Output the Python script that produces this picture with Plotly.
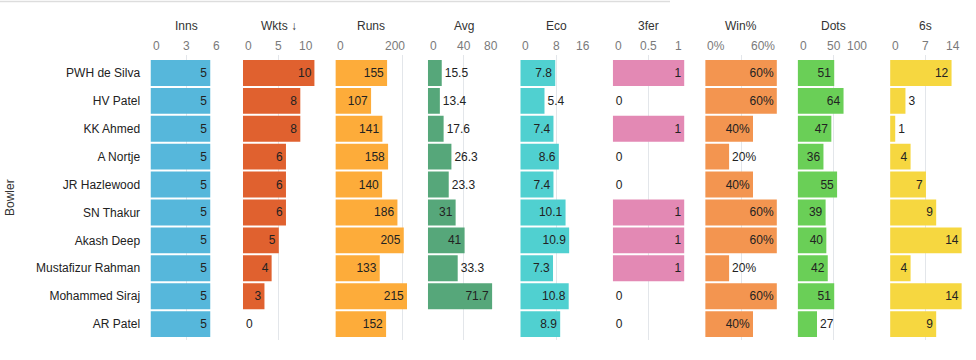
import plotly.graph_objects as go

bowlers = ["PWH de Silva", "HV Patel", "KK Ahmed", "A Nortje", "JR Hazlewood",
           "SN Thakur", "Akash Deep", "Mustafizur Rahman", "Mohammed Siraj", "AR Patel"]

inns = [5, 5, 5, 5, 5, 5, 5, 5, 5, 5]
wkts = [10, 8, 8, 6, 6, 6, 5, 4, 3, 0]
runs = [155, 107, 141, 158, 140, 186, 205, 133, 215, 152]
avg = [15.5, 13.4, 17.6, 26.3, 23.3, 31, 41, 33.3, 71.7, None]
eco = [7.8, 5.4, 7.4, 8.6, 7.4, 10.1, 10.9, 7.3, 10.8, 8.9]
three_fer = [1, 0, 1, 0, 0, 1, 1, 1, 0, 0]
win_pct = [60, 60, 40, 20, 40, 60, 60, 20, 60, 40]
dots = [51, 64, 47, 36, 55, 39, 40, 42, 51, 27]
sixes = [12, 3, 1, 4, 7, 9, 14, 4, 14, 9]

titles = ["Inns", "Wkts ↓", "Runs", "Avg", "Eco", "3fer", "Win%", "Dots", "6s"]
series = [inns, wkts, runs, avg, eco, three_fer, win_pct, dots, sixes]
ranges = [6, 10, 215, 80, 16, 1, 60, 100, 14]
grid_vals = [[0, 3, 6], [0, 5, 10], [0, 200], [0, 40, 80], [0, 8, 16],
             [0, 0.5, 1], [0, 30, 60], [0, 50, 100], [0, 7, 14]]
tick_vals = [[0, 3, 6], [0, 5, 10], [0, 200], [0, 40, 80], [0, 8, 16],
             [0, 0.5, 1], [0, 60], [0, 50, 100], [0, 7, 14]]
tick_text = [["0", "3", "6"], ["0", "5", "10"], ["0", "200"], ["0", "40", "80"],
             ["0", "8", "16"], ["0", "0.5", "1"], ["0%", "60%"], ["0", "50", "100"],
             ["0", "7", "14"]]
suffix = ["", "", "", "", "", "", "%", "", ""]
colors = ["#56B7DB", "#E0612F", "#FDAC3A", "#56A77A", "#50D0D0",
          "#E389B4", "#F39550", "#6ACF57", "#F6D740"]

W, H = 976, 360
start0, step, width = 150.5, 92.45, 71.7
FONT = "Liberation Sans, Arial, sans-serif"

fig = go.Figure()
annotations = []

for i, (title, vals) in enumerate(zip(titles, series)):
    ax = "" if i == 0 else str(i + 1)
    texts, positions = [], []
    for v in vals:
        if v is None:
            texts.append("")
            positions.append("none")
            continue
        t = f"{v:g}{suffix[i]}"
        texts.append(t)
        bar_px = v / ranges[i] * width
        txt_px = sum(3.3 if c == "." else (10.7 if c == "%" else 6.7) for c in t)
        positions.append("inside" if bar_px >= txt_px + 10 else "outside")
    fig.add_trace(go.Bar(
        x=vals, y=bowlers, orientation="h",
        xaxis="x" + ax, yaxis="y",
        marker=dict(color=colors[i], line=dict(width=0)),
        text=texts, textposition=positions, insidetextanchor="end",
        textfont=dict(color="#222", size=12, family=FONT),
        cliponaxis=False, hoverinfo="x+y", showlegend=False,
    ))
    x0 = start0 + i * step
    fig.layout["xaxis" + ax] = dict(
        domain=[x0 / W, (x0 + width) / W], anchor="y", range=[0, ranges[i]],
        tickvals=grid_vals[i], showticklabels=False, showgrid=True,
        gridcolor="#E3E6EA", gridwidth=1, zeroline=False, showline=False,
        fixedrange=True,
    )
    xref = "x" + ax
    annotations.append(dict(
        x=ranges[i] / 2, y=1 - 26 / H, xref=xref, yref="paper", text=title,
        showarrow=False, xanchor="center", yanchor="middle",
        font=dict(size=12, color="#333", family=FONT),
    ))
    n = len(tick_vals[i])
    for j, (tv, tt) in enumerate(zip(tick_vals[i], tick_text[i])):
        if j == 0:
            xa, xpos = "left", 0
        elif j == n - 1:
            xa, xpos = "right", ranges[i]
        else:
            xa, xpos = "center", tv
        annotations.append(dict(
            x=xpos, y=1 - 46 / H, xref=xref, yref="paper", text=tt,
            showarrow=False, xanchor=xa, yanchor="middle", xshift=0,
            font=dict(size=12, color="#7A7A7A", family=FONT),
        ))

annotations.append(dict(
    x=10 / W, y=1 - 198 / H, xref="paper", yref="paper", text="Bowler",
    showarrow=False, textangle=-90, xanchor="center", yanchor="middle",
    font=dict(size=12, color="#333", family=FONT),
))

fig.update_layout(
    width=W, height=H, margin=dict(l=0, r=0, t=0, b=0),
    paper_bgcolor="white", plot_bgcolor="white",
    bargap=2 / 28,
    font=dict(family=FONT, size=12, color="#222"),
    yaxis=dict(
        domain=[1 - 340 / H, 1 - 55 / H], range=[9.57, -0.643],
        type="category", categoryorder="array", categoryarray=bowlers,
        ticks="outside", ticklen=7, tickcolor="rgba(0,0,0,0)",
        showgrid=False, zeroline=False, showline=False, fixedrange=True,
        tickfont=dict(size=12, color="#222", family=FONT),
    ),
    annotations=annotations,
    shapes=[dict(type="line", xref="paper", yref="paper",
                 x0=0, x1=670 / W, y0=1 - 1.5 / H, y1=1 - 1.5 / H,
                 line=dict(color="#DDDDDD", width=1.5))],
)

fig.write_html("out.html", config={"displayModeBar": False},
               post_script="document.body.style.margin='0';")
